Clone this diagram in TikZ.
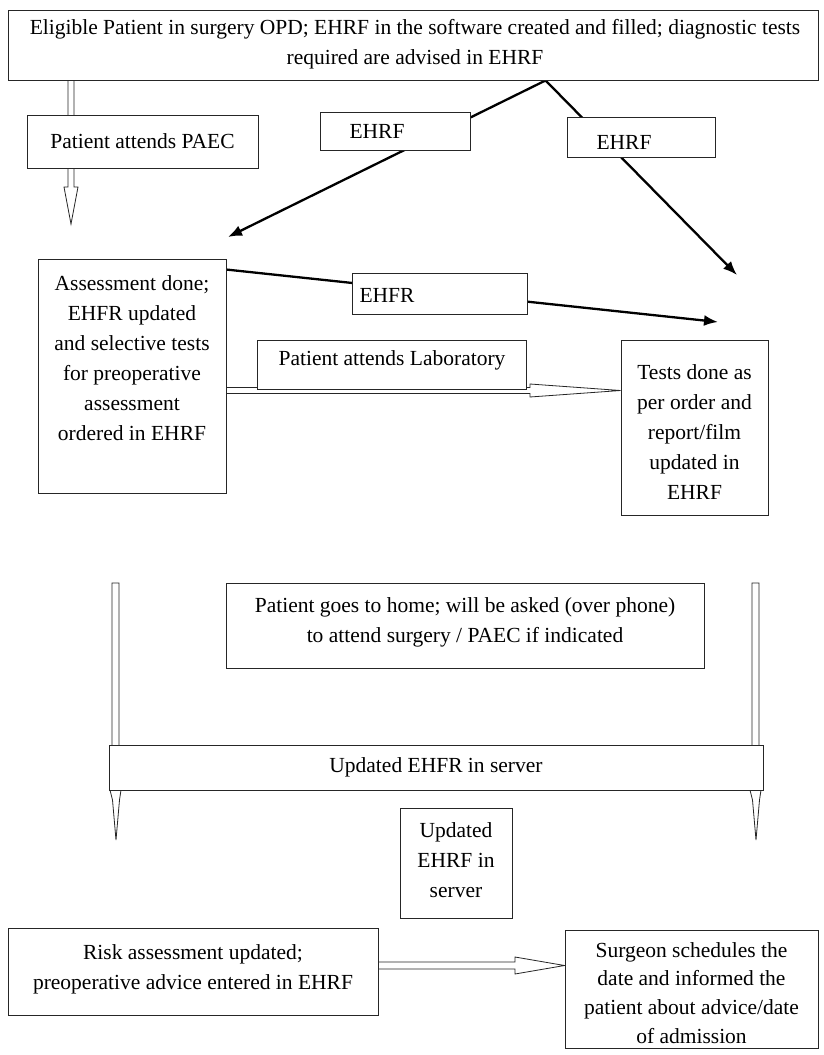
\documentclass[tikz,border=0pt]{standalone}
\usepackage{fontspec}
\setmainfont{Liberation Serif}
\usetikzlibrary{arrows.meta,calc}
\pgfdeclarelayer{bottom}
\pgfdeclarelayer{background}
\pgfsetlayers{bottom,background,main}
\begin{document}
\begin{tikzpicture}[x=1pt,y=-1pt,
  box/.style={draw=black!85, fill=white, line width=0.9pt, inner sep=0pt},
  txt/.style={align=center, inner sep=0pt, font=\fontsize{21.5}{30}\selectfont},
  conn/.style={line width=2.3pt, -{Latex[length=14pt,width=11pt]}},
  hollow/.style={draw=black!85, fill=white, line width=0.8pt, line join=miter}
]
\useasboundingbox (0,0) rectangle (823,1055);
\begin{pgfonlayer}{bottom}
  \fill[white] (0,0) rectangle (823,1055);
\end{pgfonlayer}

% boxes
\node[box, minimum width=810, minimum height=70] (top) at (413,45) {};
\node[box, minimum width=231, minimum height=53] (paec) at (142.5,141.5) {};
\node[box, minimum width=150, minimum height=38] (ehrf1) at (395,131) {};
\node[box, minimum width=148, minimum height=40] (ehrf2) at (641,137) {};
\node[box, minimum width=188, minimum height=234] (assess) at (132,376) {};
\node[box, minimum width=175, minimum height=41] (ehfr) at (439.5,293.5) {};
\node[box, minimum width=269, minimum height=49] (lab) at (392,364.5) {};
\node[box, minimum width=147, minimum height=175] (tests) at (694.5,427.5) {};
\node[box, minimum width=478, minimum height=85] (home) at (465,625.5) {};
\node[box, minimum width=654, minimum height=45] (server) at (436,767.5) {};
\node[box, minimum width=112, minimum height=110] (small) at (456,863) {};
\node[box, minimum width=370, minimum height=87] (risk) at (193,971.5) {};
\node[box, minimum width=253, minimum height=118] (surgeon) at (691.5,989) {};

% texts
\node[txt, anchor=north] (t-top) at (415,19) {Eligible Patient in surgery OPD; EHRF in the software created and filled; diagnostic tests\\required are advised in EHRF};
\node[txt] (t-paec) at (paec.center) {Patient attends PAEC};
\node[txt] (t-ehrf1) at (377,131) {EHRF};
\node[txt] (t-ehrf2) at (624,142) {EHRF};
\node[txt] (t-ehfr) at (387,295) {EHFR};
\node[txt, anchor=north] (t-assess) at (132,275) {Assessment done;\\EHFR updated\\and selective tests\\for preoperative\\assessment\\ordered in EHRF};
\node[txt] (t-lab) at (392,360) {Patient attends Laboratory};
\node[txt, anchor=north] (t-tests) at (694.5,364) {Tests done as\\per order and\\report/film\\updated in\\EHRF};
\node[txt, anchor=north] (t-home) at (465,597) {Patient goes to home; will be asked (over phone)\\to attend surgery / PAEC if indicated};
\node[txt] (t-server) at (436,767) {Updated EHFR in server};
\node[txt, anchor=north] (t-small) at (456,822) {Updated\\EHRF in\\server};
\node[txt, anchor=north] (t-risk) at (193,944) {Risk assessment updated;\\preoperative advice entered in EHRF};
\node[txt, anchor=north, font=\fontsize{21.5}{28.8}\selectfont] (t-surgeon) at (691.5,942) {Surgeon schedules the\\date and informed the\\patient about advice/date\\of admission};

% free ends
\coordinate (apex) at ($(top.south west)+(538,0)$);
\coordinate (tipL) at (228,237);
\coordinate (tipR) at (737,275);
\coordinate (eStart) at ($(assess.north east)+(0,11)$);
\coordinate (tipE) at (718,322);

\begin{pgfonlayer}{background}
  \draw[conn] (apex) -- (tipL);
  \draw[conn] (apex) -- (tipR);
  \draw[conn] (eStart) -- (tipE);
  % hollow arrow top -> assessment (through PAEC box)
  \path[hollow] (68,80) -- (68,187) -- (64,187) -- (71,224) -- (78,187) -- (74,187) -- (74,80);
  % hollow arrow assessment -> tests (through Lab box)
  \path[hollow] (assess.east |- 0,387.5) -- (530,387.5) -- (530,384) -- (tests.west |- 0,390.5) -- (530,397) -- (530,393.5) -- (assess.east |- 0,393.5);
  % hollow arrow risk -> surgeon
  \path[hollow] (risk.east |- 0,962) -- (515,962) -- (515,957) -- (surgeon.west |- 0,965.5) -- (515,974) -- (515,969) -- (risk.east |- 0,969);
  % bars through server box
  \path[hollow] (112,583) -- (119,583) -- (119,790) -- (121,790) -- (119.5,800) -- (116,840) -- (112.5,800) -- (110,790) -- (112,790) -- cycle;
  \path[hollow] (752,583) -- (759,583) -- (759,790) -- (761,790) -- (759.5,800) -- (756,840) -- (752.5,800) -- (750,790) -- (752,790) -- cycle;
\end{pgfonlayer}
\end{tikzpicture}
\end{document}
